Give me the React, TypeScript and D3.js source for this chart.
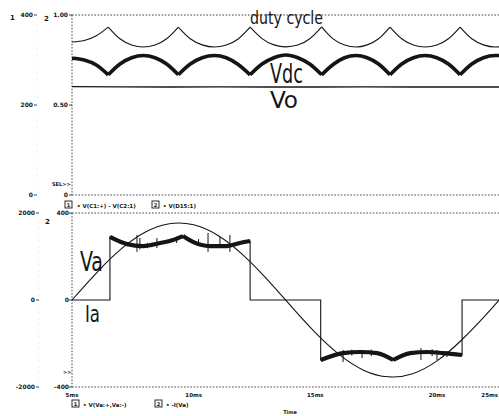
import React from 'react';
import * as d3 from 'd3';

const W = 499;
const H = 416;

// ---- x axis (time, ms) ----
const xTickTimes = [5, 10, 15, 20, 22.35];
const xTickLabels = ['5ms', '10ms', '15ms', '20ms', '25ms'];

// ---- y axis ticks ----
const topAxis1Ticks = [400, 200, 0];
const topAxis1Labels = ['400', '200', '0'];
const topAxis2Ticks = [1.0, 0.5, 0];
const topAxis2Labels = ['1.00', '0.50', '0'];
const botAxis1Ticks = [2000, 0, -2000];
const botAxis1Labels = ['2000', '0', '-2000'];
const botAxis2Ticks = [400, 0, -400];
const botAxis2Labels = ['400', '0', '-400'];

// ---- top panel series ----
const cuspTimes = [6.49, 9.37, 12.32, 15.26, 18.07, 20.95];
const topTimes = [
  5.0, 5.5, 6.0, 6.49,
  6.97, 7.45, 7.93, 8.41, 8.89, 9.37,
  9.86, 10.35, 10.85, 11.34, 11.83, 12.32,
  12.81, 13.3, 13.79, 14.28, 14.77, 15.26,
  15.73, 16.2, 16.67, 17.13, 17.6, 18.07,
  18.55, 19.03, 19.51, 19.99, 20.47, 20.95,
  21.43, 21.91, 22.39, 22.6,
];
const dutyCycle = [
  0.850, 0.858, 0.885, 0.933,
  0.868, 0.833, 0.822, 0.833, 0.868, 0.933,
  0.868, 0.834, 0.822, 0.833, 0.867, 0.932,
  0.869, 0.834, 0.823, 0.833, 0.868, 0.934,
  0.867, 0.833, 0.822, 0.834, 0.868, 0.933,
  0.868, 0.833, 0.822, 0.833, 0.868, 0.933,
  0.868, 0.834, 0.822, 0.823,
];
const vdc = [
  304, 300, 289, 267,
  291, 305, 310, 305, 291, 267,
  291, 305, 310, 305, 290, 267,
  291, 305, 311, 305, 291, 267,
  290, 305, 310, 305, 291, 267,
  291, 305, 310, 305, 291, 267,
  291, 305, 310, 310,
];
const voTimes = [5.0, 7.0, 9.0, 11.0, 13.0, 15.0, 17.0, 19.0, 21.0, 22.6];
const vo = [241, 240.5, 240, 240.5, 240, 240, 240.5, 240, 240, 240];

// ---- bottom panel series ----
const vaTimes = [5, 6, 7, 8, 9, 10, 11, 12, 13, 14, 15, 16, 17, 18, 19, 20, 21, 22, 22.55];
const va = [0, 620, 1162, 1556, 1753, 1728, 1484, 1050, 485, -142, -751, -1262, -1618, -1766, -1695, -1400, -925, -346, 0];

const iaTimes = [
  5.0, 6.56, 6.56, 7.26, 7.92, 8.62, 9.15, 9.56, 9.97, 10.67, 11.37, 11.9, 12.32,
  12.32, 15.22, 15.22, 16.14, 16.84, 17.54, 18.2, 18.9, 19.6, 20.25, 21.03, 21.03, 22.6,
];
const ia = [
  0, 0, 290, 257, 248, 262, 276, 294, 267, 248, 248, 262, 271,
  0, 0, -276, -244, -239, -244, -276, -244, -239, -244, -253, 0, 0,
];
const iaCuspTimes = [9.56, 18.2];
const iaThickRanges = [[6.56, 12.32], [15.22, 21.03]];

const spikeTimes = [7.67, 7.79, 8.49, 10.59, 11.08, 11.49, 16.14, 16.92, 19.34, 20.0, 20.41, 9.3, 17.3, 8.1, 10.2, 16.5, 19.8];
const spikeLow = [221, 232, 239, 221, 239, 221, -285, -267, -276, -276, -262, 262, -258, 238, 252, -256, -258];
const spikeHigh = [299, 285, 285, 308, 290, 299, -230, -239, -221, -230, -235, 290, -228, 262, 280, -228, -226];

type P = [number, number];

function splitAt(points: P[], cuts: number[]): P[][] {
  const bounds = [points[0][0], ...cuts, points[points.length - 1][0]];
  const out: P[][] = [];
  for (let i = 0; i < bounds.length - 1; i++) {
    const a = bounds[i], b = bounds[i + 1];
    const seg = points.filter((p) => p[0] >= a - 1e-9 && p[0] <= b + 1e-9);
    if (seg.length > 1) out.push(seg);
  }
  return out;
}

const narrow = "'Liberation Sans Narrow','DejaVu Sans Condensed','Liberation Sans',Arial,sans-serif";
const tickFont = "'DejaVu Sans','Liberation Sans',sans-serif";

export default function App() {
  const x = d3.scaleLinear().domain([5, 20]).range([72, 437]);
  const yT1 = d3.scaleLinear().domain([0, 400]).range([195, 15]);
  const yT2 = d3.scaleLinear().domain([0, 1]).range([195, 15]);
  const yB1 = d3.scaleLinear().domain([-2000, 2000]).range([387, 213]);
  const yB2 = d3.scaleLinear().domain([-400, 400]).range([387, 213]);

  const lineWith = (ys: d3.ScaleLinear<number, number>, curve: d3.CurveFactory) =>
    d3.line<P>().x((d) => x(d[0])).y((d) => ys(d[1])).curve(curve);

  const dutyPts: P[] = topTimes.map((t, i) => [t, dutyCycle[i]]);
  const vdcPts: P[] = topTimes.map((t, i) => [t, vdc[i]]);
  const voPts: P[] = voTimes.map((t, i) => [t, vo[i]]);
  const vaPts: P[] = vaTimes.map((t, i) => [t, va[i]]);
  const iaPts: P[] = iaTimes.map((t, i) => [t, ia[i]]);

  const dutyLine = lineWith(yT2, d3.curveMonotoneX);
  const vdcLine = lineWith(yT1, d3.curveMonotoneX);
  const voLine = lineWith(yT1, d3.curveLinear);
  const vaLine = lineWith(yB1, d3.curveNatural);
  const iaThin = lineWith(yB2, d3.curveLinear);
  const iaThick = lineWith(yB2, d3.curveMonotoneX);

  const thickSegs: P[][] = [];
  iaThickRanges.forEach(([a, b]) => {
    const pts = iaPts.filter((p) => p[0] >= a && p[0] <= b && p[1] !== 0);
    splitAt(pts, iaCuspTimes.filter((c) => c > a && c < b)).forEach((s) => thickSegs.push(s));
  });

  const dotted = { stroke: '#333', strokeWidth: 0.9, strokeDasharray: '1.6 1.6', fill: 'none' } as const;
  const ink = '#151515';

  const tickText = (props: any, label: string) => (
    <text {...props} fontFamily={tickFont} fontWeight="bold" fontSize={6} fill={ink}>{label}</text>
  );

  const lastTick = xTickTimes.length - 1;

  return (
    <svg width={W} height={H} style={{ position: 'absolute', left: 0, top: 0, background: '#fff' }}>
      <rect x={0} y={0} width={W} height={H} fill="#fff" />

      {/* frame lines */}
      <line x1={72} x2={W} y1={15} y2={15} {...dotted} />
      <line x1={72} x2={W} y1={195} y2={195} {...dotted} />
      <line x1={72} x2={W} y1={213} y2={213} {...dotted} />
      <line x1={72} x2={W} y1={387} y2={387} {...dotted} />
      <line x1={72} x2={72} y1={15} y2={195} {...dotted} />
      <line x1={72} x2={72} y1={213} y2={387} {...dotted} />
      <line x1={37} x2={37} y1={25} y2={188} stroke="#999" strokeWidth={0.6} strokeDasharray="1 5" opacity={0.5} />
      <line x1={39} x2={39} y1={222} y2={380} stroke="#999" strokeWidth={0.6} strokeDasharray="1 5" opacity={0.5} />

      {/* top panel axis labels */}
      <text x={10} y={20} fontFamily={tickFont} fontWeight="bold" fontSize={7} fill={ink}>1</text>
      <text x={44} y={21} fontFamily={tickFont} fontWeight="bold" fontSize={7} fill={ink}>2</text>
      {topAxis1Ticks.map((v, i) => (
        <g key={'ta1' + i}>
          {tickText({ x: 33, y: yT1(v) + 2, textAnchor: 'end' }, topAxis1Labels[i])}
          <line x1={34} x2={37} y1={yT1(v)} y2={yT1(v)} stroke={ink} strokeWidth={0.8} />
        </g>
      ))}
      {topAxis2Ticks.map((v, i) => (
        <g key={'ta2' + i}>
          {tickText({ x: 68, y: yT2(v) + 2, textAnchor: 'end' }, topAxis2Labels[i])}
          <line x1={69} x2={72} y1={yT2(v)} y2={yT2(v)} stroke={ink} strokeWidth={0.8} />
        </g>
      ))}
      <text x={52} y={186} fontFamily={tickFont} fontWeight="bold" fontSize={5} fill={ink}>SEL&gt;&gt;</text>

      {/* top panel curves */}
      {splitAt(dutyPts, cuspTimes).map((s, i) => (
        <path key={'d' + i} d={dutyLine(s) || ''} fill="none" stroke={ink} strokeWidth={1.1} />
      ))}
      {splitAt(vdcPts, cuspTimes).map((s, i) => (
        <path key={'v' + i} d={vdcLine(s) || ''} fill="none" stroke={ink} strokeWidth={3.6} strokeLinejoin="round" />
      ))}
      <path d={voLine(voPts) || ''} fill="none" stroke={ink} strokeWidth={1.3} />

      <text x={250} y={24} fontFamily={narrow} fontSize={17} fill={ink} textLength={73} lengthAdjust="spacingAndGlyphs">duty cycle</text>
      <text x={270} y={83} fontFamily={narrow} fontSize={26} fill={ink} textLength={33} lengthAdjust="spacingAndGlyphs">Vdc</text>
      <text x={270} y={108} fontFamily={narrow} fontSize={23} fill={ink} textLength={28} lengthAdjust="spacingAndGlyphs">Vo</text>

      {/* middle legend */}
      <rect x={65} y={201} width={7} height={7} fill="none" stroke={ink} strokeWidth={0.9} />
      <text x={68.5} y={207} textAnchor="middle" fontFamily={tickFont} fontWeight="bold" fontSize={5} fill={ink}>1</text>
      <text x={77} y={208} fontFamily={tickFont} fontWeight="bold" fontSize={5.5} fill={ink}>• V(C1:+) - V(C2:1)</text>
      <rect x={152} y={201} width={7} height={7} fill="none" stroke={ink} strokeWidth={0.9} />
      <text x={155.5} y={207} textAnchor="middle" fontFamily={tickFont} fontWeight="bold" fontSize={5} fill={ink}>2</text>
      <text x={163} y={208} fontFamily={tickFont} fontWeight="bold" fontSize={5.5} fill={ink}>• V(D15:1)</text>

      {/* bottom panel axis labels */}
      <text x={45} y={224} fontFamily={tickFont} fontWeight="bold" fontSize={7} fill={ink}>2</text>
      {botAxis1Ticks.map((v, i) => (
        <g key={'ba1' + i}>
          {tickText({ x: 35, y: yB1(v) + 2, textAnchor: 'end' }, botAxis1Labels[i])}
          <line x1={36} x2={39} y1={yB1(v)} y2={yB1(v)} stroke={ink} strokeWidth={0.8} />
        </g>
      ))}
      {botAxis2Ticks.map((v, i) => (
        <g key={'ba2' + i}>
          {tickText({ x: 69, y: yB2(v) + 2, textAnchor: 'end' }, botAxis2Labels[i])}
          <line x1={69} x2={72} y1={yB2(v)} y2={yB2(v)} stroke={ink} strokeWidth={0.8} />
        </g>
      ))}
      <text x={63} y={374} fontFamily={tickFont} fontWeight="bold" fontSize={5} fill={ink}>&gt;&gt;</text>

      {/* bottom panel curves */}
      <path d={vaLine(vaPts) || ''} fill="none" stroke={ink} strokeWidth={1.1} />
      <path d={iaThin(iaPts) || ''} fill="none" stroke={ink} strokeWidth={1.1} />
      {thickSegs.map((s, i) => (
        <path key={'it' + i} d={iaThick(s) || ''} fill="none" stroke={ink} strokeWidth={4.2} strokeLinejoin="round" />
      ))}
      {spikeTimes.map((t, i) => (
        <line key={'sp' + i} x1={x(t)} x2={x(t)} y1={yB2(spikeLow[i])} y2={yB2(spikeHigh[i])} stroke={ink} strokeWidth={1} />
      ))}

      <text x={80} y={271} fontFamily={narrow} fontSize={26} fill={ink} textLength={23} lengthAdjust="spacingAndGlyphs">Va</text>
      <text x={85} y={322} fontFamily={narrow} fontSize={23} fill={ink} textLength={15} lengthAdjust="spacingAndGlyphs">Ia</text>

      {/* x axis tick labels */}
      {xTickTimes.map((t, i) => (
        <text
          key={'xt' + i}
          x={i === lastTick ? Math.min(x(t) + 7, W - 1) : x(t)}
          y={397}
          textAnchor={i === lastTick ? 'end' : 'middle'}
          fontFamily={tickFont}
          fontWeight="bold"
          fontSize={5.5}
          fill={ink}
        >
          {xTickLabels[i]}
        </text>
      ))}

      {/* bottom legend */}
      <rect x={72} y={400} width={7} height={7} fill="none" stroke={ink} strokeWidth={0.9} />
      <text x={75.5} y={406} textAnchor="middle" fontFamily={tickFont} fontWeight="bold" fontSize={5} fill={ink}>1</text>
      <text x={83} y={407} fontFamily={tickFont} fontWeight="bold" fontSize={5.5} fill={ink}>• V(Va:+,Va:-)</text>
      <rect x={155} y={400} width={7} height={7} fill="none" stroke={ink} strokeWidth={0.9} />
      <text x={158.5} y={406} textAnchor="middle" fontFamily={tickFont} fontWeight="bold" fontSize={5} fill={ink}>2</text>
      <text x={166} y={407} fontFamily={tickFont} fontWeight="bold" fontSize={5.5} fill={ink}>• -I(Va)</text>

      <text x={290} y={414} textAnchor="middle" fontFamily={tickFont} fontWeight="bold" fontSize={5} fill={ink}>Time</text>
    </svg>
  );
}
